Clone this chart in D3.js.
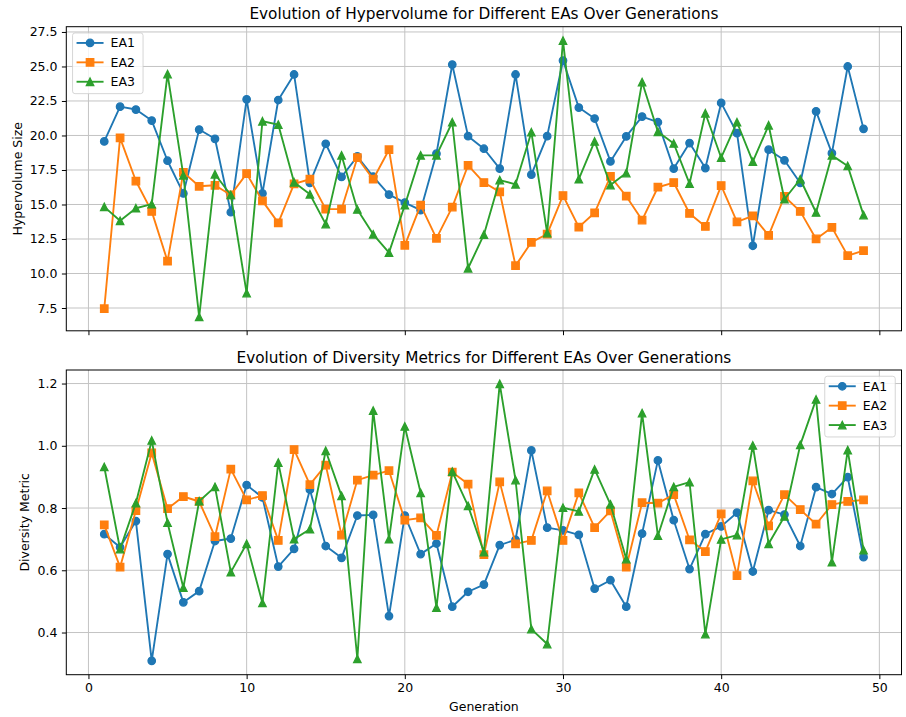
<!DOCTYPE html>
<html>
<head>
<meta charset="utf-8">
<script src="https://cdn.jsdelivr.net/npm/d3@7"></script>
<style>
  html, body { margin: 0; padding: 0; background: #fff; }
  svg { display: block; font-family: "DejaVu Sans", sans-serif; }
</style>
</head>
<body>
<svg id="chart" width="906" height="717"></svg>
<script>
// ---------------- DATA ----------------
const generations = [1,2,3,4,5,6,7,8,9,10,11,12,13,14,15,16,17,18,19,20,21,22,23,24,25,26,27,28,29,30,31,32,33,34,35,36,37,38,39,40,41,42,43,44,45,46,47,48,49];
const seriesNames = ["EA1", "EA2", "EA3"];

const hvEA1 = [19.57,22.09,21.88,21.08,18.17,15.80,20.43,19.76,14.44,22.62,
               15.80,22.57,24.42,16.56,19.40,17.00,18.48,17.02,15.72,15.14,
               14.59,18.68,25.14,19.95,19.04,17.60,24.42,17.16,19.95,25.43,
               22.02,21.23,18.12,19.93,21.37,20.96,17.60,19.45,17.64,22.36,
               20.17,12.01,18.97,18.20,16.56,21.75,18.72,25.00,20.48];
const hvEA2 = [7.45,19.83,16.70,14.50,10.89,17.33,16.32,16.39,15.69,17.24,
               15.26,13.67,16.49,16.83,14.66,14.66,18.39,16.83,18.97,12.04,
               14.95,12.55,14.81,17.84,16.59,15.91,10.57,12.26,12.86,15.65,
               13.36,14.40,17.04,15.60,13.87,16.25,16.59,14.35,13.41,16.37,
               13.74,14.18,12.76,15.58,14.50,12.50,13.34,11.29,11.65];
const hvEA3 = [14.83,13.82,14.73,15.02,24.45,17.11,6.85,17.19,15.69,8.58,
               21.03,20.79,16.61,15.74,13.58,18.56,14.64,12.84,11.51,14.95,
               18.56,18.56,20.96,10.38,12.81,16.77,16.46,20.24,12.93,26.88,
               16.83,19.57,16.41,17.28,23.87,20.27,19.42,16.51,21.61,18.39,
               20.96,18.10,20.74,15.38,16.83,14.42,18.56,17.79,14.23];

const divEA1 = [0.716,0.674,0.758,0.309,0.652,0.497,0.533,0.694,0.702,0.874,
                0.834,0.612,0.669,0.859,0.678,0.640,0.776,0.778,0.453,0.776,
                0.652,0.686,0.483,0.531,0.554,0.681,0.698,0.985,0.737,0.728,
                0.714,0.541,0.568,0.483,0.718,0.953,0.761,0.604,0.716,0.741,
                0.785,0.596,0.793,0.779,0.678,0.867,0.845,0.899,0.642];
const divEA2 = [0.746,0.610,0.792,0.977,0.798,0.837,0.821,0.708,0.925,0.826,
                0.840,0.696,0.988,0.875,0.938,0.713,0.890,0.906,0.920,0.761,
                0.768,0.712,0.915,0.877,0.650,0.884,0.685,0.696,0.855,0.696,
                0.849,0.737,0.791,0.610,0.817,0.816,0.843,0.698,0.660,0.781,
                0.583,0.887,0.743,0.843,0.795,0.748,0.811,0.821,0.826];
const divEA3 = [0.932,0.668,0.816,1.017,0.753,0.544,0.822,0.868,0.594,0.685,
                0.495,0.946,0.700,0.732,0.984,0.839,0.315,1.113,0.700,1.062,
                0.849,0.480,0.917,0.807,0.658,1.199,0.890,0.411,0.363,0.801,
                0.789,0.924,0.812,0.636,1.105,0.711,0.868,0.883,0.395,0.699,
                0.713,1.001,0.685,0.773,1.003,1.149,0.626,0.986,0.665];

const xTicks = [0, 10, 20, 30, 40, 50];
const hvTicks = [7.5, 10.0, 12.5, 15.0, 17.5, 20.0, 22.5, 25.0, 27.5];
const divTicks = [0.4, 0.6, 0.8, 1.0, 1.2];

const topTitle = "Evolution of Hypervolume for Different EAs Over Generations";
const bottomTitle = "Evolution of Diversity Metrics for Different EAs Over Generations";
const topYLabel = "Hypervolume Size";
const bottomYLabel = "Diversity Metric";
const xLabel = "Generation";

// ---------------- STYLE ----------------
const colors = ["#1f77b4", "#ff7f0e", "#2ca02c"];
const markers = ["circle", "square", "triangle"];
const FS = 12.5, TITLE_FS = 15.3;
const LW = 1.875, MS = 7.5, MEW = 1.25;

const svg = d3.select("#chart");

const plotLeft = 66.3, plotRight = 901.5;

function padded(ext) {
  const r = ext[1] - ext[0];
  return [ext[0] - 0.05 * r, ext[1] + 0.05 * r];
}

const x = d3.scaleLinear()
  .domain(padded(d3.extent(generations)))
  .range([plotLeft, plotRight]);

function markerPath(type) {
  const h = MS / 2;
  if (type === "circle") {
    return `M${h},0A${h},${h} 0 1,1 ${-h},0A${h},${h} 0 1,1 ${h},0Z`;
  } else if (type === "square") {
    return `M${-h},${-h}L${h},${-h}L${h},${h}L${-h},${h}Z`;
  } else {
    return `M0,${-h}L${h},${h}L${-h},${h}Z`;
  }
}

function drawPanel(opts) {
  const { top, bottom, series, yTicks, title, yLabel, yLabelX, legendPos, showXLabels, id } = opts;
  const all = series.flat();
  const y = d3.scaleLinear().domain(padded(d3.extent(all))).range([bottom, top]);
  const g = svg.append("g");

  svg.append("defs").append("clipPath").attr("id", id)
    .append("rect").attr("x", plotLeft).attr("y", top)
    .attr("width", plotRight - plotLeft).attr("height", bottom - top);

  // grid
  const grid = g.append("g").attr("stroke", "#b0b0b0").attr("stroke-width", 1).attr("opacity", 0.75);
  xTicks.forEach(t => {
    grid.append("line").attr("x1", x(t)).attr("x2", x(t)).attr("y1", top).attr("y2", bottom);
  });
  yTicks.forEach(t => {
    grid.append("line").attr("x1", plotLeft).attr("x2", plotRight).attr("y1", y(t)).attr("y2", y(t));
  });

  // series
  const line = d3.line().x((d, i) => x(generations[i])).y(d => y(d));
  const sg = g.append("g").attr("clip-path", `url(#${id})`);
  series.forEach((vals, si) => {
    sg.append("path").datum(vals)
      .attr("d", line)
      .attr("fill", "none")
      .attr("stroke", colors[si])
      .attr("stroke-width", LW)
      .attr("stroke-linejoin", "round")
      .attr("stroke-linecap", "butt");
    sg.selectAll(null).data(vals).enter().append("path")
      .attr("d", markerPath(markers[si]))
      .attr("transform", (d, i) => `translate(${x(generations[i])},${y(d)})`)
      .attr("fill", colors[si])
      .attr("stroke", colors[si])
      .attr("stroke-width", MEW)
      .attr("stroke-linejoin", "miter");
  });

  // axes
  const yAxis = d3.axisLeft(y).tickValues(yTicks).tickSize(4.4).tickPadding(4.4)
    .tickFormat(d3.format(".1f"));
  const ya = g.append("g").attr("transform", `translate(${plotLeft},0)`).call(yAxis);
  const xAxis = d3.axisBottom(x).tickValues(xTicks).tickSize(4.4).tickPadding(4.4)
    .tickFormat(showXLabels ? d3.format("d") : () => "");
  const xa = g.append("g").attr("transform", `translate(0,${bottom})`).call(xAxis);
  [ya, xa].forEach(a => {
    a.select(".domain").remove();
    a.selectAll(".tick line").attr("stroke", "#000").attr("stroke-width", 1);
    a.selectAll(".tick text").attr("fill", "#000").style("font-size", FS + "px")
      .style("font-family", "'DejaVu Sans', sans-serif");
  });

  // frame
  g.append("rect").attr("x", plotLeft).attr("y", top)
    .attr("width", plotRight - plotLeft).attr("height", bottom - top)
    .attr("fill", "none").attr("stroke", "#000").attr("stroke-width", 1);

  // title
  g.append("text").attr("x", (plotLeft + plotRight) / 2).attr("y", top - 7.5)
    .attr("text-anchor", "middle").style("font-size", TITLE_FS + "px").attr("fill", "#000")
    .text(title);

  // y label
  g.append("text")
    .attr("transform", `translate(${yLabelX},${(top + bottom) / 2}) rotate(-90)`)
    .attr("text-anchor", "middle").style("font-size", FS + "px").attr("fill", "#000")
    .text(yLabel);

  // legend
  const lw = 70.5, lh = 60.7;
  const lx = legendPos === "left" ? plotLeft + 6.25 : plotRight - 6.25 - lw;
  const ly = top + 6.25;
  const lg = g.append("g");
  lg.append("rect").attr("x", lx).attr("y", ly).attr("width", lw).attr("height", lh)
    .attr("rx", 2.5).attr("fill", "#fff").attr("fill-opacity", 0.8)
    .attr("stroke", "#cccccc").attr("stroke-opacity", 0.8).attr("stroke-width", 1);
  seriesNames.forEach((name, si) => {
    const cy = ly + 10 + si * 19.4;
    lg.append("line").attr("x1", lx + 4).attr("x2", lx + 31).attr("y1", cy).attr("y2", cy)
      .attr("stroke", colors[si]).attr("stroke-width", LW);
    lg.append("path").attr("d", markerPath(markers[si]))
      .attr("transform", `translate(${lx + 17.5},${cy})`)
      .attr("fill", colors[si]).attr("stroke", colors[si]).attr("stroke-width", MEW);
    lg.append("text").attr("x", lx + 38).attr("y", cy).attr("dy", "0.36em")
      .style("font-size", FS + "px").attr("fill", "#000").text(name);
  });
  return y;
}

drawPanel({
  id: "clipTop", top: 26.7, bottom: 330.8,
  series: [hvEA1, hvEA2, hvEA3], yTicks: hvTicks,
  title: topTitle, yLabel: topYLabel, yLabelX: 21.5,
  legendPos: "left", showXLabels: false
});

drawPanel({
  id: "clipBottom", top: 370, bottom: 674.7,
  series: [divEA1, divEA2, divEA3], yTicks: divTicks,
  title: bottomTitle, yLabel: bottomYLabel, yLabelX: 28.5,
  legendPos: "right", showXLabels: true
});

svg.append("text").attr("x", (plotLeft + plotRight) / 2).attr("y", 711)
  .attr("text-anchor", "middle").style("font-size", FS + "px").attr("fill", "#000")
  .text(xLabel);
</script>
</body>
</html>
